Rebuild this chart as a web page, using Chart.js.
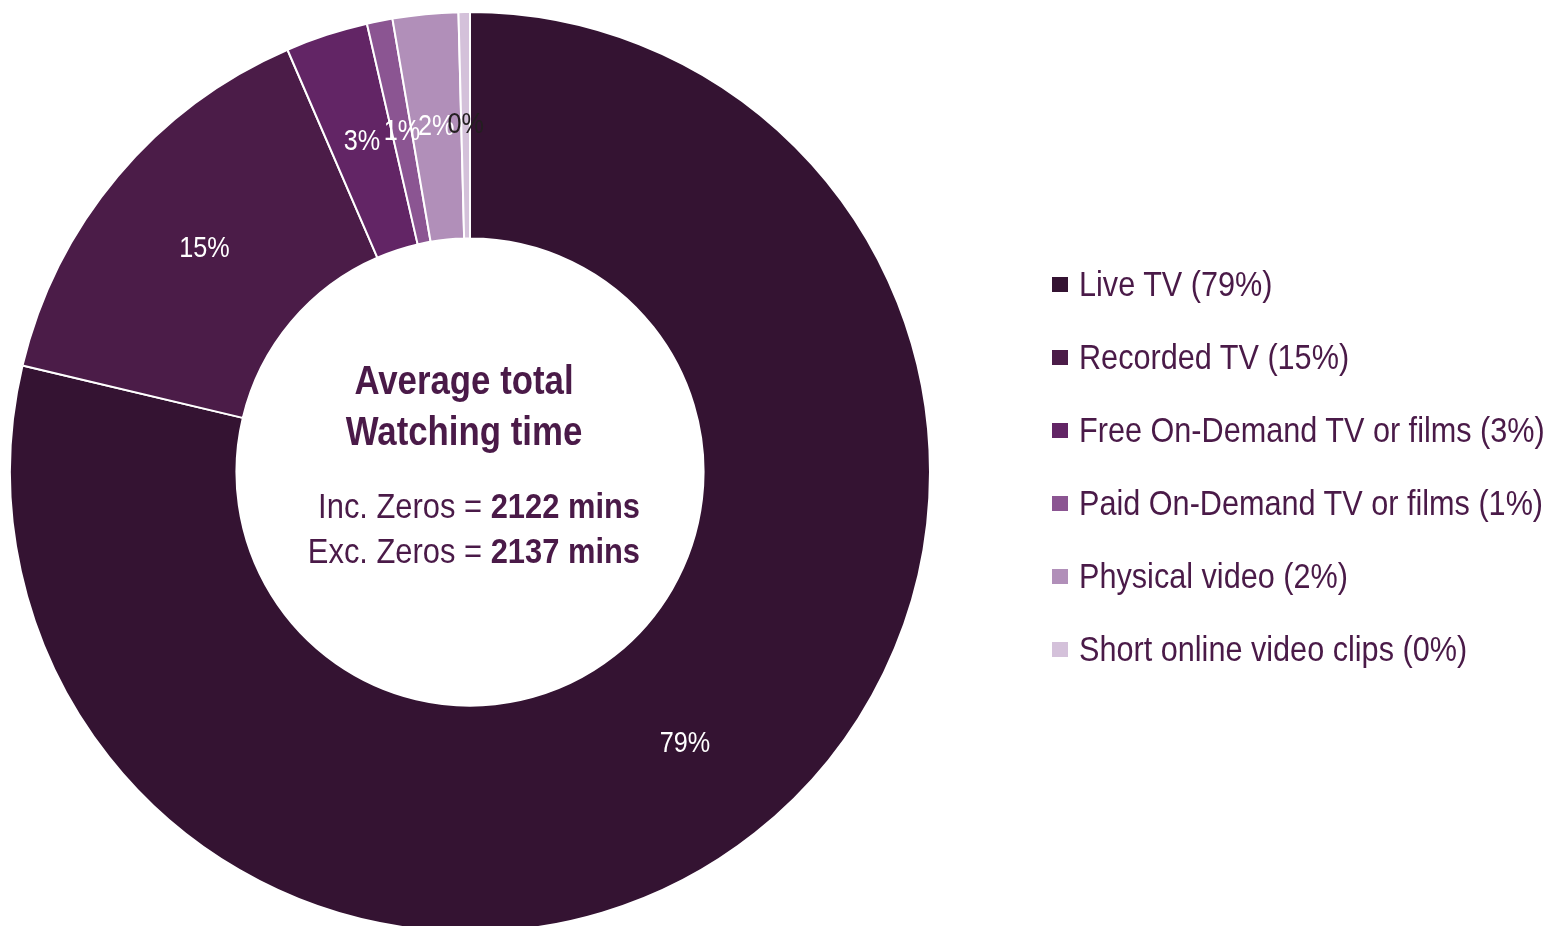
<!DOCTYPE html>
<html>
<head>
<meta charset="utf-8">
<script src="https://cdn.jsdelivr.net/npm/chart.js@4/dist/chart.umd.min.js"></script>
<style>
  html, body { margin: 0; padding: 0; background: #fff; overflow: hidden; }
  #wrap { position: relative; width: 1547px; height: 926px; }
  #legend { position: absolute; left: 1052px; top: 0; margin: 0; padding: 0; list-style: none;
    font-family: 'Liberation Sans', Arial, sans-serif; font-size: 35px; color: #4a1a48; }
  #legend li { position: absolute; left: 0; height: 73px; display: flex; align-items: center; white-space: nowrap; }
  #legend li span.box { width: 16px; height: 15px; margin-right: 11px; display: inline-block; flex: none; }
  #legend li span.txt { display: inline-block; transform: scaleX(0.875); transform-origin: left center; }
</style>
</head>
<body>
<div id="wrap">
  <canvas id="myChart" width="1547" height="926"></canvas>
  <ul id="legend"></ul>
</div>
<script>
// Chart data
const categories = ['Live TV', 'Recorded TV', 'Free On-Demand TV or films', 'Paid On-Demand TV or films', 'Physical video', 'Short online video clips'];
const shares = [78.8, 14.8, 2.9, 0.9, 2.3, 0.4];
const colours = ['#341332', '#4b1c48', '#622565', '#8b5592', '#b18fb9', '#d4c1da'];
const labelColours = ['#fff', '#fff', '#fff', '#fff', '#fff', '#231f20'];
const FONT = "'Liberation Sans', Arial, sans-serif";
const NARROW = 0.87; // squeeze to look like Arial Narrow
const TEXT = '#4a1a48';

// Build the legend
const legend = document.getElementById('legend');
categories.forEach((c, i) => {
  const li = document.createElement('li');
  li.style.top = (284 - 36.5 + 73 * i) + 'px';
  li.innerHTML = '<span class="box" style="background:' + colours[i] + '"></span><span class="txt">' + c + ' (' + Math.round(shares[i]) + '%)</span>';
  legend.appendChild(li);
});

// draw squeezed text on the canvas
function narrowText(ctx, text, x, y) {
  ctx.save();
  ctx.translate(x, y);
  ctx.scale(NARROW, 1);
  ctx.fillText(text, 0, 0);
  ctx.restore();
}
function narrowWidth(ctx, text) {
  return ctx.measureText(text).width * NARROW;
}

// Percent labels on each slice
const sliceLabels = {
  id: 'sliceLabels',
  afterDatasetsDraw(chart) {
    const ctx = chart.ctx;
    const meta = chart.getDatasetMeta(0);
    ctx.save();
    ctx.font = '29px ' + FONT;
    ctx.textAlign = 'center';
    ctx.textBaseline = 'middle';
    meta.data.forEach((arc, i) => {
      const p = arc.getCenterPoint();
      ctx.fillStyle = labelColours[i];
      narrowText(ctx, Math.round(shares[i]) + '%', p.x, p.y);
    });
    ctx.restore();
  }
};

// Text in the hole
const centreText = {
  id: 'centreText',
  afterDraw(chart) {
    const ctx = chart.ctx;
    const arc = chart.getDatasetMeta(0).data[0];
    const cx = arc.x - 6, cy = arc.y;
    ctx.save();
    ctx.fillStyle = TEXT;
    ctx.textBaseline = 'alphabetic';
    ctx.textAlign = 'center';
    ctx.font = 'bold 40px ' + FONT;
    narrowText(ctx, 'Average total', cx, cy - 78);
    narrowText(ctx, 'Watching time', cx, cy - 27);
    // right-aligned lines with bold figures
    const right = 640;
    const lines = [['Inc. Zeros = ', '2122 mins', cy + 46], ['Exc. Zeros = ', '2137 mins', cy + 91]];
    ctx.textAlign = 'right';
    lines.forEach(l => {
      ctx.font = 'bold 35.5px ' + FONT;
      const wb = narrowWidth(ctx, l[1]);
      narrowText(ctx, l[1], right, l[2]);
      ctx.font = '35.5px ' + FONT;
      narrowText(ctx, l[0], right - wb, l[2]);
    });
    ctx.restore();
  }
};

const ctx = document.getElementById('myChart').getContext('2d');
new Chart(ctx, {
  type: 'doughnut',
  data: {
    labels: categories,
    datasets: [{
      data: shares,
      backgroundColor: colours,
      borderColor: '#fff',
      borderWidth: 2,
      radius: 460,
      cutout: 230,
      clip: false
    }]
  },
  options: {
    responsive: false,
    animation: false,
    layout: { padding: { left: 10, right: 617, top: 18, bottom: 0 } },
    plugins: {
      legend: { display: false },
      tooltip: { enabled: false }
    }
  },
  plugins: [sliceLabels, centreText]
});
</script>
</body>
</html>
